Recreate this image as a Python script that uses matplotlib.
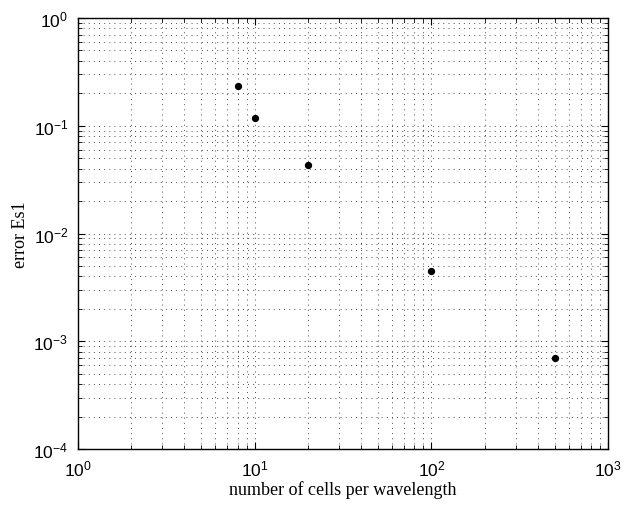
import matplotlib
matplotlib.use("Agg")
import matplotlib.pyplot as plt

# data
cells = [8, 10, 20, 100, 500]
err_es1 = [0.235, 0.118, 0.0435, 0.00446, 0.000695]

plt.rcParams['mathtext.fontset'] = 'custom'
plt.rcParams['mathtext.rm'] = 'Liberation Sans'
plt.rcParams['mathtext.it'] = 'Liberation Sans:italic'
plt.rcParams['mathtext.bf'] = 'Liberation Sans:bold'
plt.rcParams['font.family'] = ['Liberation Sans', 'DejaVu Sans']
plt.rcParams['lines.scale_dashes'] = False

fig = plt.figure(figsize=(6.43, 5.10), dpi=100)
ax = fig.add_axes([78 / 643, 60 / 510, 530 / 643, 431 / 510])

ax.loglog(cells, err_es1, 'k.', markersize=8.5)
ax.set_xlim(1, 1000)
ax.set_ylim(1e-4, 1)

# matlab style sparse dotted grid
dots = (0, (0.7, 3.0))
ax.grid(True, which='major', linestyle=dots, color='0.3', linewidth=0.7)
ax.grid(True, which='minor', linestyle=dots, color='0.3', linewidth=0.7)

ax.tick_params(which='both', direction='in', top=True, right=True,
               labelsize=12.5, pad=7)
ax.tick_params(which='major', length=5)
ax.tick_params(which='minor', length=3)

ax.set_xlabel("number of cells per wavelength", family='Liberation Serif', fontsize=13, labelpad=1)
ax.set_ylabel("error Es1", family='Liberation Serif', fontsize=13, labelpad=3)

for s in ax.spines.values():
    s.set_linewidth(1.0)

fig.savefig("out.png", dpi=100)
